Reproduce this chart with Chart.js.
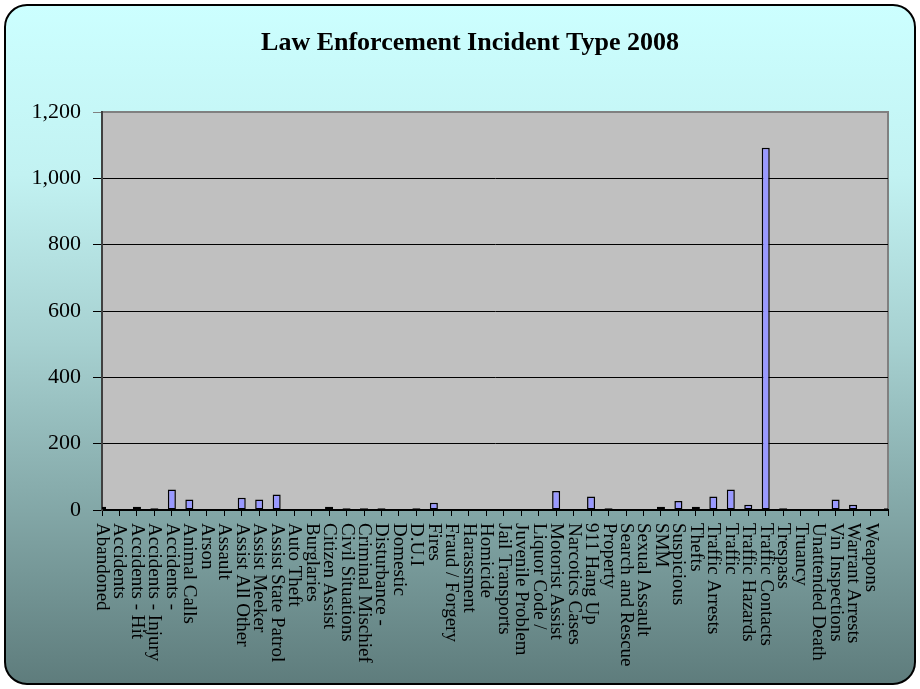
<!DOCTYPE html>
<html>
<head>
<meta charset="utf-8">
<script src="https://cdn.jsdelivr.net/npm/chart.js@4/dist/chart.umd.min.js"></script>
<style>
  html, body { margin: 0; padding: 0; background: #fff; }
  #wrap { width: 920px; height: 689px; }
</style>
</head>
<body>
<div id="wrap"><canvas id="incidentChart" width="920" height="689"></canvas></div>
<script>
// -------- Data --------
const chartTitle = "Law Enforcement Incident Type 2008";

const categories = [
  "Abandoned", "Accidents", "Accidents - Hit", "Accidents - Injury", "Accidents -",
  "Animal Calls", "Arson", "Assault", "Assist All Other", "Assist Meeker",
  "Assist State Patrol", "Auto Theft", "Burglaries", "Citizen Assist", "Civil Situations",
  "Criminal Mischief", "Disturbance -", "Domestic", "D.U.I", "Fires",
  "Fraud / Forgery", "Harassment", "Homicide", "Jail Transports", "Juvenile Problem",
  "Liquor Code /", "Motorist Assist", "Narcotics Cases", "911 Hang Up", "Property",
  "Search and Rescue", "Sexual Assault", "SMM", "Suspicious", "Thefts",
  "Traffic Arrests", "Traffic", "Traffic Hazards", "Traffic Contacts", "Trespass",
  "Truancy", "Unattended Death", "Vin Inspections", "Warrant Arrests", "Weapons",
  ""
];

const incidents = [
  10, 0, 10, 5, 62,
  32, 0, 0, 37, 32,
  47, 0, 0, 10, 5,
  5, 5, 0, 5, 22,
  0, 0, 0, 0, 0,
  0, 57, 0, 41, 5,
  0, 0, 10, 27, 10,
  41, 62, 16, 1092, 5,
  0, 0, 32, 16, 0,
  5
];

const yTicks = [0, 200, 400, 600, 800, 1000, 1200];

// -------- Background, frame, plot area and title --------
const framePlugin = {
  id: "frame",
  beforeDraw(chart) {
    const c = chart.ctx;
    const a = chart.chartArea;
    c.save();
    c.fillStyle = "#ffffff";
    c.fillRect(0, 0, chart.width, chart.height);

    const g = c.createLinearGradient(0, 5, 0, 684);
    g.addColorStop(0, "#ccffff");
    g.addColorStop(0.25, "#c2f2f2");
    g.addColorStop(0.5, "#a6d0d0");
    g.addColorStop(0.75, "#82a6a6");
    g.addColorStop(1, "#5e7c7c");
    c.beginPath();
    c.roundRect(5, 5, 910, 679, 22);
    c.fillStyle = g;
    c.fill();
    c.lineWidth = 2;
    c.strokeStyle = "#000";
    c.stroke();

    // plot area
    c.fillStyle = "#c0c0c0";
    c.fillRect(a.left, a.top, a.right - a.left, a.bottom - a.top);
    c.strokeStyle = "#808080";
    c.lineWidth = 2;
    c.strokeRect(a.left, a.top, a.right - a.left, a.bottom - a.top);

    // title
    c.fillStyle = "#000";
    c.font = "bold 26px 'Liberation Serif', 'Times New Roman', serif";
    c.textAlign = "center";
    c.textBaseline = "middle";
    c.fillText(chartTitle, 470, 43);
    c.restore();
  },
  // category labels read top to bottom
  afterDraw(chart) {
    const c = chart.ctx;
    const x = chart.scales.x;
    c.save();
    c.fillStyle = "#000";
    c.font = "19px 'Liberation Serif', 'Times New Roman', serif";
    c.textAlign = "left";
    c.textBaseline = "middle";
    categories.forEach((lab, i) => {
      const px = x.getPixelForValue(i);
      c.save();
      c.translate(px, chart.chartArea.bottom + 13);
      c.rotate(Math.PI / 2);
      c.fillText(lab, 0, 0);
      c.restore();
    });
    c.restore();
  }
};

new Chart(document.getElementById("incidentChart"), {
  type: "bar",
  data: {
    labels: categories,
    datasets: [{
      label: "Incidents",
      data: incidents,
      backgroundColor: "#9999ff",
      borderColor: "#000000",
      borderWidth: 1.5,
      borderSkipped: false,
      categoryPercentage: 1,
      barPercentage: 0.46
    }]
  },
  options: {
    responsive: false,
    animation: false,
    layout: { padding: { top: 112, right: 32, left: 0, bottom: 0 } },
    plugins: {
      legend: { display: false },
      title: { display: false },
      tooltip: { enabled: false }
    },
    scales: {
      x: {
        offset: false,
        grid: {
          offset: false,
          drawOnChartArea: false,
          drawTicks: true,
          tickLength: 6,
          color: "#000",
          lineWidth: 1
        },
        border: { color: "#000", width: 2 },
        ticks: { display: false, autoSkip: false },
        afterFit(s) { s.height = 179; }
      },
      y: {
        min: 0,
        max: 1200,
        afterBuildTicks(s) { s.ticks = yTicks.map(v => ({ value: v })); },
        grid: {
          color: ctx => (ctx.tick && ctx.tick.value === 1200) ? "#808080" : "#000",
          lineWidth: 1,
          tickLength: 9
        },
        border: { color: "#404040", width: 2 },
        ticks: {
          color: "#000",
          padding: 12,
          font: { family: "'Liberation Serif', 'Times New Roman', serif", size: 22 },
          callback: v => v.toLocaleString("en-US")
        },
        afterFit(s) { s.width = 102; }
      }
    }
  },
  plugins: [framePlugin]
});
</script>
</body>
</html>
